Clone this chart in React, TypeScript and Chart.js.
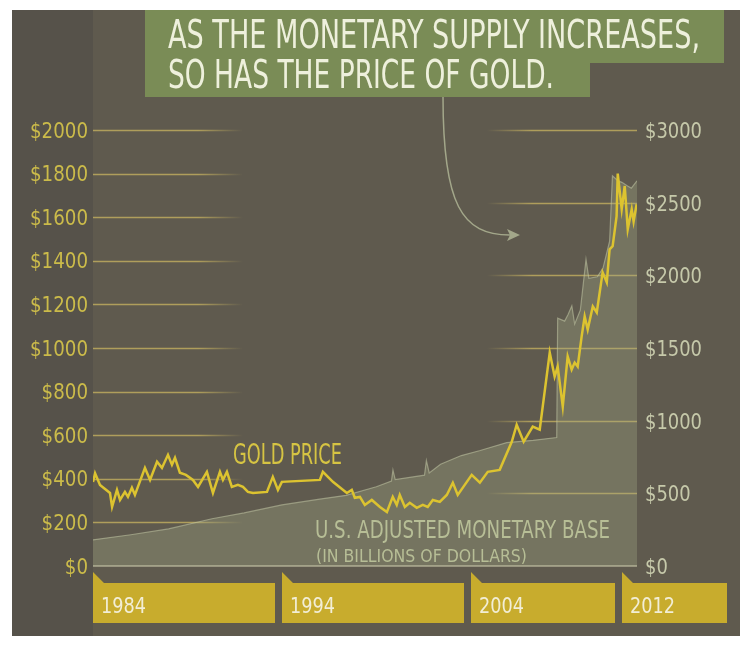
import React, { useEffect, useRef } from 'react';
import { Chart, registerables } from 'chart.js';

Chart.register(...registerables);

// ---------- data ----------
const titleLines = ['AS THE MONETARY SUPPLY INCREASES,', 'SO HAS THE PRICE OF GOLD.'];
const goldLabel = 'GOLD PRICE';
const baseLabel = 'U.S. ADJUSTED MONETARY BASE';
const baseSubLabel = '(IN BILLIONS OF DOLLARS)';

const yearTicks = [1984, 1994, 2004, 2012];
const goldTicks = [0, 200, 400, 600, 800, 1000, 1200, 1400, 1600, 1800, 2000];
const baseTicks = [0, 500, 1000, 1500, 2000, 2500, 3000];

const goldYears = [
  1984.0, 1984.11, 1984.37, 1984.9, 1985.01, 1985.27, 1985.43, 1985.69, 1985.85, 1986.06,
  1986.22, 1986.75, 1987.02, 1987.39, 1987.65, 1987.97, 1988.18, 1988.34, 1988.6, 1988.92,
  1989.29, 1989.56, 1990.03, 1990.35, 1990.72, 1990.88, 1991.09, 1991.35, 1991.67, 1991.94,
  1992.2, 1992.47, 1993.21, 1993.52, 1993.79, 1994.0, 1996.01, 1996.17, 1996.7, 1997.44,
  1997.7, 1997.86, 1998.13, 1998.39, 1998.76, 1999.19, 1999.56, 1999.87, 2000.08, 2000.24,
  2000.51, 2000.77, 2001.14, 2001.46, 2001.72, 2001.99, 2002.36, 2002.73, 2003.05, 2003.31,
  2004.05, 2004.48, 2004.9, 2005.53, 2006.17, 2006.43, 2006.8, 2007.28, 2007.65, 2008.18,
  2008.44, 2008.6, 2008.87, 2009.13, 2009.34, 2009.5, 2009.66, 2009.87, 2010.03, 2010.19,
  2010.46, 2010.67, 2010.98, 2011.2, 2011.35, 2011.51, 2011.72, 2011.78, 2011.99, 2012.15,
  2012.31, 2012.52, 2012.62, 2012.78,
];
const goldPrices = [
  385, 425, 372, 335, 271, 349, 303, 340, 317, 359,
  326, 450, 395, 478, 450, 510, 464, 496, 428, 418,
  395, 363, 432, 335, 432, 395, 432, 363, 372, 363,
  340, 335, 340, 409, 349, 386, 395, 432, 386, 335,
  349, 313, 317, 280, 303, 271, 248, 317, 280, 326,
  271, 290, 267, 280, 271, 303, 294, 326, 382, 326,
  418, 382, 432, 441, 570, 648, 570, 639, 625, 979,
  869, 915, 731, 961, 901, 933, 915, 1053, 1145, 1085,
  1191, 1163, 1347, 1301, 1453, 1467, 1605, 1800, 1637, 1743,
  1545, 1637, 1580, 1660,
];

const baseYears = [
  1984.0, 1986.0, 1988.0, 1990.3, 1992.0, 1994.0, 1996.0, 1997.4, 1999.0, 1999.8,
  1999.88, 2000.0, 2001.55, 2001.65, 2001.8, 2002.4, 2003.5, 2004.5, 2005.9, 2007.3,
  2008.55, 2008.6, 2008.97, 2009.15, 2009.35, 2009.5, 2009.8, 2010.1, 2010.25, 2010.7,
  2011.0, 2011.35, 2011.5, 2011.8, 2012.0, 2012.3, 2012.5, 2012.8,
];
const baseValues = [
  180, 215, 255, 325, 365, 420, 460, 486, 545, 585,
  660, 595, 625, 725, 640, 700, 760, 795, 849, 865,
  884, 1705, 1685, 1730, 1790, 1665, 1760, 2110, 1980, 1990,
  2050, 2235, 2685, 2650, 2640, 2615, 2600, 2650,
];

// ---------- styling ----------
const FONT = '"Liberation Sans Narrow", "DejaVu Sans Condensed", "Open Sans", sans-serif';
const C = {
  white: '#ffffff',
  panel: '#5f5a4e',
  strip: '#56524a',
  titleBox: '#7a8c56',
  titleText: '#eef0dc',
  leftTick: '#cbbb4a',
  rightTick: '#c6c9aa',
  gold: '#dcc330',
  goldLabel: '#d6c443',
  areaFill: 'rgba(165,170,135,0.33)',
  areaLine: 'rgba(195,200,165,0.55)',
  baseLabel: '#b7be96',
  tab: '#c8ac2d',
  tabText: '#f2eed6',
  grid: 'rgba(195,175,95,0.8)',
  arrow: '#a3a78a',
};

function textScale(ctx: CanvasRenderingContext2D, text: string, size: number, width: number) {
  ctx.font = `${size}px ${FONT}`;
  return width / ctx.measureText(text).width;
}

function drawText(
  ctx: CanvasRenderingContext2D,
  text: string,
  x: number,
  y: number,
  size: number,
  color: string,
  sx: number,
  align: CanvasTextAlign = 'left'
) {
  ctx.save();
  ctx.font = `${size}px ${FONT}`;
  ctx.fillStyle = color;
  ctx.textBaseline = 'alphabetic';
  ctx.textAlign = align;
  ctx.translate(x, y);
  ctx.scale(sx, 1);
  ctx.fillText(text, 0, 0);
  ctx.restore();
}

const decor = {
  id: 'decor',
  beforeDraw(chart: any) {
    const ctx: CanvasRenderingContext2D = chart.ctx;
    ctx.save();
    ctx.fillStyle = C.white;
    ctx.fillRect(0, 0, chart.width, chart.height);
    ctx.fillStyle = C.panel;
    ctx.fillRect(12, 10, 728, 626);
    ctx.fillStyle = C.strip;
    ctx.fillRect(12, 10, 81, 626);

    // title box
    ctx.fillStyle = C.titleBox;
    ctx.beginPath();
    ctx.moveTo(145, 10);
    ctx.lineTo(724, 10);
    ctx.lineTo(724, 63);
    ctx.lineTo(590, 63);
    ctx.lineTo(590, 97);
    ctx.lineTo(145, 97);
    ctx.closePath();
    ctx.fill();
    drawText(ctx, titleLines[0], 168, 48, 39, C.titleText, textScale(ctx, titleLines[0], 39, 532));
    drawText(ctx, titleLines[1], 168, 88, 39, C.titleText, textScale(ctx, titleLines[1], 39, 386));

    // arrow
    ctx.strokeStyle = C.arrow;
    ctx.lineWidth = 1.5;
    ctx.beginPath();
    ctx.moveTo(443, 97);
    ctx.bezierCurveTo(443, 205, 462, 235, 510, 235);
    ctx.stroke();
    ctx.fillStyle = C.arrow;
    ctx.beginPath();
    ctx.moveTo(520, 235);
    ctx.lineTo(507, 229);
    ctx.lineTo(510, 235);
    ctx.lineTo(507, 241);
    ctx.closePath();
    ctx.fill();
    ctx.restore();
  },
  beforeDatasetsDraw(chart: any) {
    const ctx: CanvasRenderingContext2D = chart.ctx;
    const { left, right, bottom } = chart.chartArea;
    const yL = chart.scales.y;
    const yR = chart.scales.y2;
    ctx.save();
    ctx.lineWidth = 1.5;
    const gl = ctx.createLinearGradient(left, 0, left + 150, 0);
    gl.addColorStop(0, C.grid);
    gl.addColorStop(0.7, C.grid);
    gl.addColorStop(1, 'rgba(195,175,95,0)');
    ctx.strokeStyle = gl;
    goldTicks.forEach((v) => {
      if (v === 0) return;
      const y = Math.round(yL.getPixelForValue(v)) + 0.5;
      ctx.beginPath();
      ctx.moveTo(left, y);
      ctx.lineTo(left + 150, y);
      ctx.stroke();
    });
    const gr = ctx.createLinearGradient(right - 150, 0, right, 0);
    gr.addColorStop(0, 'rgba(195,175,95,0)');
    gr.addColorStop(0.3, C.grid);
    gr.addColorStop(1, C.grid);
    ctx.strokeStyle = gr;
    baseTicks.forEach((v) => {
      if (v === 0) return;
      const y = Math.round(yR.getPixelForValue(v)) + 0.5;
      ctx.beginPath();
      ctx.moveTo(right - 150, y);
      ctx.lineTo(right, y);
      ctx.stroke();
    });
    ctx.restore();
  },
  afterDatasetsDraw(chart: any) {
    const ctx: CanvasRenderingContext2D = chart.ctx;
    const { left, right, bottom } = chart.chartArea;
    const xs = chart.scales.x;
    const yL = chart.scales.y;
    const yR = chart.scales.y2;
    ctx.save();
    // baseline of the area
    ctx.strokeStyle = 'rgba(200,200,170,0.55)';
    ctx.lineWidth = 2;
    ctx.beginPath();
    ctx.moveTo(left, bottom);
    ctx.lineTo(right, bottom);
    ctx.stroke();

    // annotations
    drawText(ctx, goldLabel, 233, 464, 28, C.goldLabel, textScale(ctx, goldLabel, 28, 109));
    drawText(ctx, baseLabel, 315, 538, 25, C.baseLabel, textScale(ctx, baseLabel, 25, 295));
    drawText(ctx, baseSubLabel, 316, 562, 18, C.baseLabel, textScale(ctx, baseSubLabel, 18, 211));

    // left tick labels
    const sxL = textScale(ctx, '$2000', 21, 58);
    goldTicks.forEach((v) => {
      drawText(ctx, '$' + v, 88, yL.getPixelForValue(v) + 7.5, 21, C.leftTick, sxL, 'right');
    });
    // right tick labels
    const sxR = textScale(ctx, '$3000', 22, 57);
    baseTicks.forEach((v) => {
      drawText(ctx, '$' + v, 645, yR.getPixelForValue(v) + 8, 22, C.rightTick, sxR, 'left');
    });

    // year tabs
    const sxT = textScale(ctx, '1984', 22, 45);
    yearTicks.forEach((yr, i) => {
      const x0 = Math.round(xs.getPixelForValue(yr));
      const x1 = i < yearTicks.length - 1 ? Math.round(xs.getPixelForValue(yearTicks[i + 1])) - 7 : 727;
      ctx.fillStyle = C.tab;
      ctx.beginPath();
      ctx.moveTo(x0, bottom + 6);
      ctx.lineTo(x0 + 11, bottom + 17);
      ctx.lineTo(x1, bottom + 17);
      ctx.lineTo(x1, bottom + 57);
      ctx.lineTo(x0, bottom + 57);
      ctx.closePath();
      ctx.fill();
      drawText(ctx, String(yr), x0 + 8, bottom + 47, 22, C.tabText, sxT, 'left');
    });
    ctx.restore();
  },
};

export default function App() {
  const ref = useRef<HTMLCanvasElement>(null);
  useEffect(() => {
    const canvas = ref.current;
    if (!canvas) return;
    const chart = new Chart(canvas, {
      type: 'line',
      data: {
        datasets: [
          {
            label: 'Gold price',
            data: goldYears.map((x, i) => ({ x, y: goldPrices[i] })),
            yAxisID: 'y',
            borderColor: C.gold,
            borderWidth: 2.5,
            pointRadius: 0,
            fill: false,
            tension: 0,
          },
          {
            label: 'U.S. adjusted monetary base',
            data: baseYears.map((x, i) => ({ x, y: baseValues[i] })),
            yAxisID: 'y2',
            borderColor: C.areaLine,
            borderWidth: 1.2,
            backgroundColor: C.areaFill,
            fill: 'origin',
            pointRadius: 0,
            tension: 0,
          },
        ],
      },
      options: {
        responsive: false,
        animation: false,
        devicePixelRatio: 1,
        events: [],
        layout: { padding: { left: 93, top: 130, right: 114, bottom: 79 } },
        plugins: { legend: { display: false }, tooltip: { enabled: false } },
        scales: {
          x: { type: 'linear', min: yearTicks[0], max: baseYears[baseYears.length - 1], display: false },
          y: { min: goldTicks[0], max: goldTicks[goldTicks.length - 1], display: false },
          y2: { min: baseTicks[0], max: baseTicks[baseTicks.length - 1], display: false, position: 'right' },
        },
      },
      plugins: [decor],
    } as any);
    return () => chart.destroy();
  }, []);
  return (
    <div style={{ position: 'absolute', left: 0, top: 0, width: 751, height: 645, background: '#fff' }}>
      <canvas ref={ref} width={751} height={645} style={{ display: 'block', width: 751, height: 645 }} />
    </div>
  );
}
